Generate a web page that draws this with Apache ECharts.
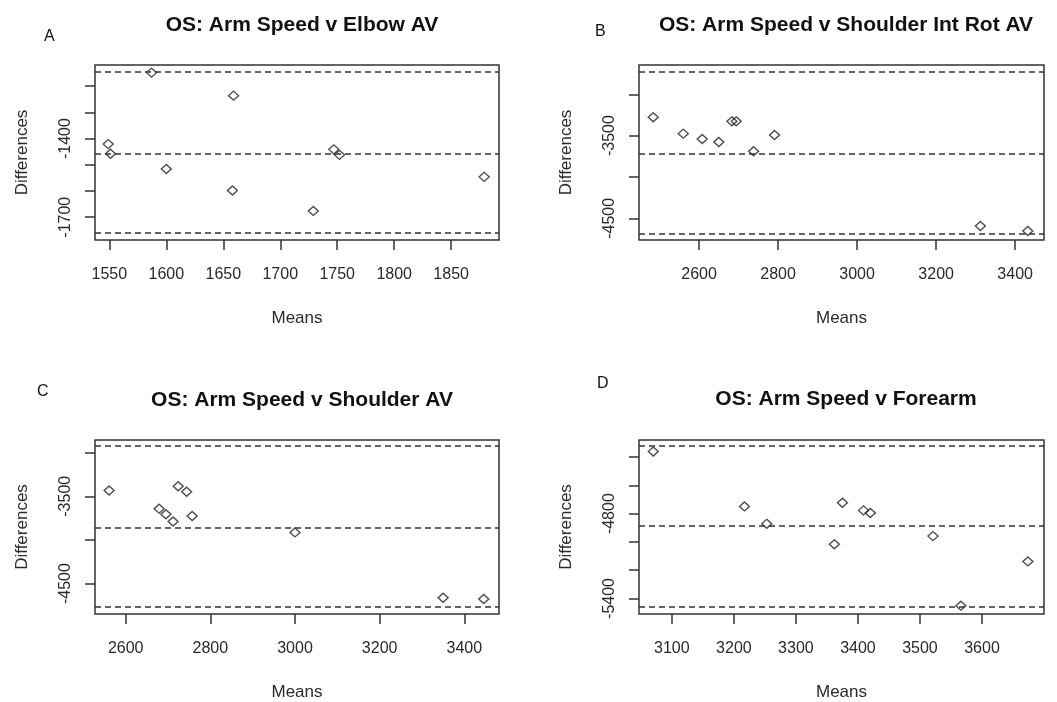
<!DOCTYPE html>
<html>
<head>
<meta charset="utf-8">
<script src="https://cdn.jsdelivr.net/npm/echarts@6/dist/echarts.min.js"></script>
<style>
html,body{margin:0;padding:0;background:#fff;}
#c{width:1057px;height:702px;}
</style>
</head>
<body>
<div id="c"></div>
<script>
// Panel A: Elbow AV
const A_means = [1549, 1551, 1587, 1659, 1600, 1658, 1729, 1747, 1752, 1879];
const A_diffs = [-1421, -1458, -1148, -1236, -1516, -1598, -1676, -1441, -1462, -1546];
const A_limits = [-1144, -1456, -1761];
const A_xticks = [1550, 1600, 1650, 1700, 1750, 1800, 1850];
const A_yticks = [-1700, -1600, -1500, -1400, -1300, -1200];
const A_ylabels = [-1700, -1400];

// Panel B: Shoulder Int Rot AV
const B_means = [2484, 2560, 2608, 2650, 2683, 2694, 2738, 2791, 3312, 3432];
const B_diffs = [-3278, -3476, -3540, -3577, -3327, -3327, -3689, -3492, -4593, -4653];
const B_limits = [-2727, -3718, -4681];
const B_xticks = [2600, 2800, 3000, 3200, 3400];
const B_yticks = [-4500, -4000, -3500, -3000];
const B_ylabels = [-4500, -3500];

// Panel C: Shoulder AV
const C_means = [2561, 2679, 2695, 2712, 2724, 2744, 2757, 3000, 3350, 3446];
const C_diffs = [-3434, -3642, -3706, -3789, -3385, -3449, -3726, -3914, -4662, -4677];
const C_limits = [-2924, -3857, -4764];
const C_xticks = [2600, 2800, 3000, 3200, 3400];
const C_yticks = [-4500, -4000, -3500, -3000];
const C_ylabels = [-4500, -3500];

// Panel D: Forearm
const D_means = [3070, 3217, 3253, 3362, 3375, 3409, 3420, 3521, 3566, 3674];
const D_diffs = [-4361, -4749, -4872, -5017, -4723, -4777, -4795, -4959, -5451, -5138];
const D_limits = [-4321, -4887, -5458];
const D_xticks = [3100, 3200, 3300, 3400, 3500, 3600];
const D_yticks = [-5400, -5200, -5000, -4800, -4600, -4400];
const D_ylabels = [-5400, -4800];

const titles = ['OS: Arm Speed v Elbow AV', 'OS: Arm Speed v Shoulder Int Rot AV', 'OS: Arm Speed v Shoulder AV', 'OS: Arm Speed v Forearm'];
const letters = ['A', 'B', 'C', 'D'];
const xName = 'Means';
const yName = 'Differences';

const panels = [
  {means: A_means, diffs: A_diffs, limits: A_limits, xticks: A_xticks, yticks: A_yticks, ylabels: A_ylabels,
   xr: [1537.4, 1892], yr: [-1787, -1119]},
  {means: B_means, diffs: B_diffs, limits: B_limits, xticks: B_xticks, yticks: B_yticks, ylabels: B_ylabels,
   xr: [2448, 3473], yr: [-4762, -2646]},
  {means: C_means, diffs: C_diffs, limits: C_limits, xticks: C_xticks, yticks: C_yticks, ylabels: C_ylabels,
   xr: [2527.5, 3482], yr: [-4848, -2856]},
  {means: D_means, diffs: D_diffs, limits: D_limits, xticks: D_xticks, yticks: D_yticks, ylabels: D_ylabels,
   xr: [3047, 3700], yr: [-5510, -4279]}
];

const gridPos = [
  {left: 95, top: 65, width: 404, height: 175},
  {left: 639, top: 65, width: 405, height: 175},
  {left: 95, top: 440, width: 404, height: 176},
  {left: 639, top: 440, width: 405, height: 176}
];
const titlePos = [
  {x: 297, y: 10}, {x: 841, y: 10}, {x: 297, y: 385}, {x: 841, y: 384}
];
const letterPos = [
  {x: 44, y: 29}, {x: 595, y: 24}, {x: 37, y: 384}, {x: 597, y: 376}
];

const FONT = '"Liberation Sans", Arial, sans-serif';
const INK = '#2a2a2a';

const option = {
  animation: false,
  backgroundColor: '#fff',
  title: titles.map((t, i) => ({
    text: t, left: titlePos[i].x, top: titlePos[i].y, textAlign: 'center',
    textStyle: {fontFamily: FONT, fontSize: 21, fontWeight: 'bold', color: '#111'}
  })),
  graphic: letters.map((l, i) => ({
    type: 'text', left: letterPos[i].x, top: letterPos[i].y,
    style: {text: l, fontFamily: FONT, fontSize: 16, fill: '#111'}
  })),
  grid: gridPos.map(g => Object.assign({show: true, borderColor: '#333', borderWidth: 1.5, backgroundColor: 'transparent', containLabel: false}, g)),
  xAxis: panels.map((p, i) => ({
    type: 'value', gridIndex: i, min: p.xr[0], max: p.xr[1],
    name: xName, nameLocation: 'middle', nameGap: 70,
    nameTextStyle: {fontFamily: FONT, fontSize: 17, color: INK},
    axisLine: {show: false, onZero: false},
    axisTick: {show: true, length: 10, inside: false, customValues: p.xticks, lineStyle: {color: '#333', width: 1.5}},
    axisLabel: {show: true, margin: 27, customValues: p.xticks, formatter: v => String(v),
      fontFamily: FONT, fontSize: 16, color: INK},
    splitLine: {show: false}
  })),
  yAxis: panels.map((p, i) => ({
    type: 'value', gridIndex: i, min: p.yr[0], max: p.yr[1],
    name: yName, nameLocation: 'middle', nameGap: 64,
    nameTextStyle: {fontFamily: FONT, fontSize: 17, color: INK},
    axisLine: {show: false, onZero: false},
    axisTick: {show: true, length: 10, inside: false, customValues: p.yticks, lineStyle: {color: '#333', width: 1.5}},
    axisLabel: {show: true, margin: 21, rotate: 90, customValues: p.ylabels, formatter: v => String(v),
      fontFamily: FONT, fontSize: 16, color: INK},
    splitLine: {show: false}
  })),
  series: panels.map((p, i) => ({
    type: 'scatter', xAxisIndex: i, yAxisIndex: i,
    data: p.means.map((m, k) => [m, p.diffs[k]]),
    symbol: 'diamond', symbolSize: [10, 9],
    itemStyle: {color: 'rgba(255,255,255,0)', borderColor: '#222', borderWidth: 1.4},
    markLine: {
      silent: true, symbol: 'none', animation: false,
      label: {show: false},
      lineStyle: {type: [6, 4], width: 1.5, color: '#333'},
      data: p.limits.map(v => ({yAxis: v}))
    }
  }))
};

const chart = echarts.init(document.getElementById('c'), null, {renderer: 'canvas'});
chart.setOption(option);
</script>
</body>
</html>
